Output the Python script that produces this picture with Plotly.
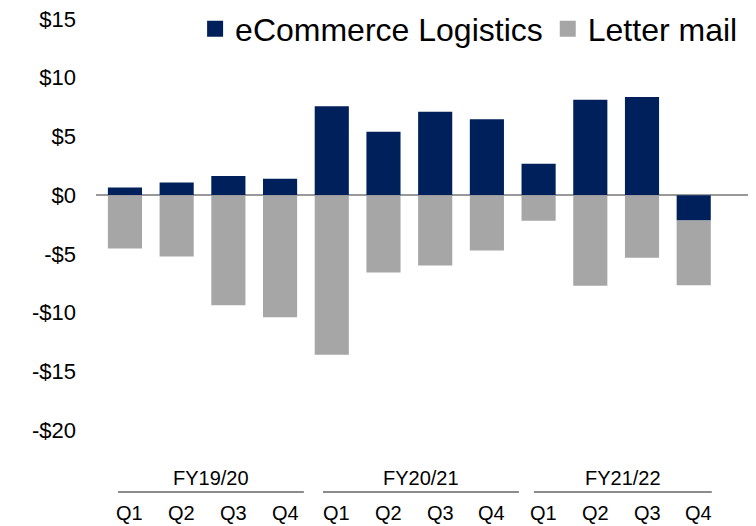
import plotly.graph_objects as go

quarters = ["Q1", "Q2", "Q3", "Q4"] * 3
years = ["FY19/20", "FY20/21", "FY21/22"]
categories = [f"{y} {q}" for y in years for q in ["Q1", "Q2", "Q3", "Q4"]]
ecommerce = [0.66, 1.08, 1.63, 1.40, 7.58, 5.40, 7.10, 6.47, 2.67, 8.13, 8.35, -2.15]
letter_mail = [-4.54, -5.22, -9.37, -10.39, -13.60, -6.58, -6.00, -4.71, -2.18, -7.72, -5.33, -5.52]
y_ticks = [15, 10, 5, 0, -5, -10, -15, -20]
y_tick_labels = ["$15", "$10", "$5", "$0", "-$5", "-$10", "-$15", "-$20"]

NAVY = "#00205B"
GRAY = "#A6A6A6"
FONT = "Liberation Sans, Arial, sans-serif"

fig = go.Figure()
fig.add_trace(go.Bar(x=categories, y=ecommerce, name="eCommerce Logistics", showlegend=False,
                     marker=dict(color=NAVY, line=dict(width=0))))
fig.add_trace(go.Bar(x=categories, y=letter_mail, name="Letter mail", showlegend=False,
                     marker=dict(color=GRAY, line=dict(width=0))))
# legend entries with larger square swatches
for name, col in [("eCommerce Logistics", NAVY), ("Letter mail", GRAY)]:
    fig.add_trace(go.Scatter(x=[None], y=[None], mode="markers", name=name,
                             marker=dict(symbol="square", size=16, color=col)))

# quarter labels
for i, q in enumerate(quarters):
    fig.add_annotation(x=categories[i], y=0, xref="x", yref="paper", yanchor="middle",
                       yshift=-83, xshift=5, text=q, showarrow=False,
                       font=dict(size=20, color="#000", family=FONT))

# group lines and labels
group_spans = [(-0.135, 3.46), (3.83, 7.62), (7.91, 11.35)]
for (x0, x1), yr in zip(group_spans, years):
    fig.add_shape(type="line", xref="x", yref="paper", x0=x0, x1=x1,
                  y0=-0.151, y1=-0.151, line=dict(color="#8C8C8C", width=2))
    fig.add_annotation(x=(x0 + x1) / 2, y=-0.151, xref="x", yref="paper",
                       yanchor="middle", yshift=14, text=yr, showarrow=False,
                       font=dict(size=20, color="#000", family=FONT))

fig.update_layout(
    width=748, height=518,
    margin=dict(l=88, r=8, t=11, b=96, autoexpand=False),
    barmode="relative", bargap=0.34,
    plot_bgcolor="white", paper_bgcolor="white",
    font=dict(family=FONT, color="#000"),
    showlegend=True,
    legend=dict(orientation="h", x=0.152, xanchor="left", y=0.976, yanchor="middle",
                font=dict(size=32, family=FONT, color="#000"),
                bgcolor="rgba(0,0,0,0)", itemclick=False, itemsizing="trace"),
    xaxis=dict(range=[-0.56, 12.05], showticklabels=False, showgrid=False,
               showline=False, ticks="", zeroline=False),
    yaxis=dict(range=[-20, 15], tickvals=y_ticks, ticktext=y_tick_labels,
               showgrid=False, showline=False, ticks="", zeroline=True,
               zerolinecolor="#999999", zerolinewidth=2,
               ticklabelstandoff=19, ticklabeloverflow="allow",
               tickfont=dict(size=22, family=FONT, color="#000")),
)

fig.write_html("out.html")
